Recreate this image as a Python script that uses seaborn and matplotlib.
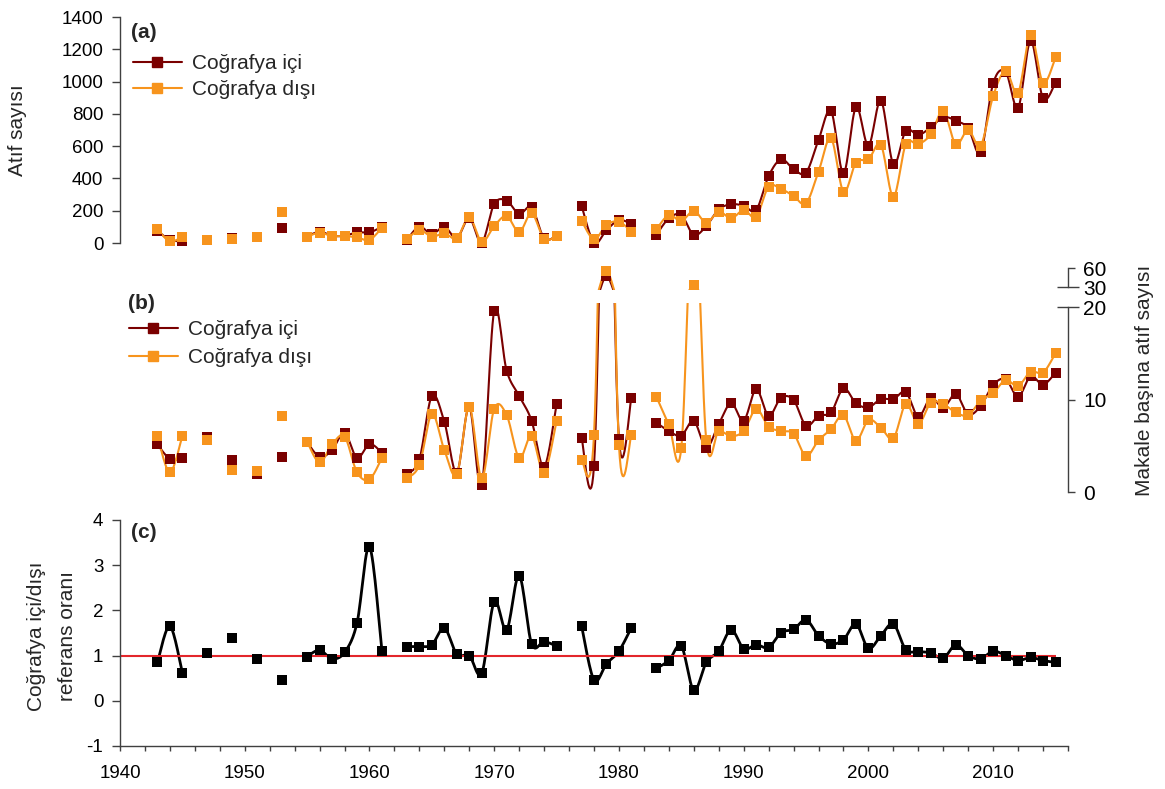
import numpy as np
import matplotlib
matplotlib.use("Agg")
import matplotlib.pyplot as plt
from matplotlib.lines import Line2D
import seaborn as sns

nan = np.nan

# ---------------- DATA ----------------
years = np.arange(1943, 2016)

# (a) citation counts
atif_ici = [
    75, 20, 10, nan, 20, nan, 32,
    nan, 37, nan, 91, nan, 40, 70, 45, 45, 66,
    66, 100, nan, 20, 101, 54, 101, 30, 155, 3,
    242, 262, 180, 221, 29, 45, nan, 231, 2, 80,
    142, 118, nan, 50, 153, 173, 50, 105, 208, 240,
    231, 204, 415, 518, 458, 436, 638, 818, 432, 841,
    603, 882, 489, 696, 669, 717, 779, 758, 711, 562,
    989, 1060, 838, 1253, 896, 993,
]
atif_disi = [
    85, 10, 39, nan, 19, nan, 23,
    nan, 39, nan, 190, nan, 39, 64, 43, 43, 35,
    19, 95, nan, 23, 80, 39, 60, 29, 159, 8,
    105, 167, 66, 184, 25, 43, nan, 138, 23, 112,
    132, 70, nan, 85, 173, 136, 200, 126, 194, 153,
    204, 163, 349, 335, 291, 246, 442, 649, 318, 498,
    518, 607, 287, 612, 612, 673, 818, 612, 700, 603,
    911, 1066, 931, 1289, 993, 1150,
]

# (b) citations per article
makale_ici = [
    5.15, 3.57, 3.64, nan, 6.0, nan, 3.46,
    nan, 2.0, nan, 3.8, nan, 5.4, 3.8, 4.54, 6.4, 3.7,
    5.19, 4.25, nan, 1.95, 3.53, 10.38, 7.6, 2.1, 9.2, 0.76,
    19.6, 13.1, 10.4, 7.7, 2.7, 9.5, nan, 5.87, 2.85, 47,
    5.7, 10.2, nan, 7.5, 6.6, 6.1, 7.7, 4.8, 7.35, 9.6,
    7.7, 11.1, 8.25, 10.2, 9.95, 7.17, 8.25, 8.6, 11.2, 9.6,
    9.15, 10.05, 10.05, 10.8, 8.15, 10.2, 9.1, 10.6, 8.4, 9.3,
    11.57, 12.2, 10.3, 12.5, 11.6, 12.9,
]
makale_disi = [
    6.05, 2.13, 6.05, nan, 5.6, nan, 2.38,
    nan, 2.3, nan, 8.2, nan, 5.44, 3.2, 5.15, 6.0, 2.13,
    1.37, 3.7, nan, 1.48, 2.92, 8.43, 4.54, 1.9, 9.2, 1.48,
    9.0, 8.3, 3.7, 6.05, 2.1, 7.7, nan, 3.46, 6.16, 55,
    5.08, 6.16, nan, 10.3, 7.3, 4.8, 33, 5.6, 6.6, 6.05,
    6.6, 8.97, 7.06, 6.6, 6.3, 3.9, 5.6, 6.8, 8.3, 5.55,
    7.8, 6.95, 5.8, 9.5, 7.35, 9.66, 9.5, 8.6, 8.3, 9.9,
    10.7, 12.1, 11.46, 13.0, 12.9, 15.0,
]

# (c) inside / outside ratio
oran = [
    0.85, 1.65, 0.62, nan, 1.05, nan, 1.39,
    nan, 0.93, nan, 0.46, nan, 0.98, 1.12, 0.93, 1.07, 1.72,
    3.41, 1.1, nan, 1.2, 1.2, 1.24, 1.61, 1.03, 1.0, 0.61,
    2.19, 1.57, 2.77, 1.26, 1.31, 1.21, nan, 1.66, 0.46, 0.82,
    1.1, 1.62, nan, 0.72, 0.89, 1.21, 0.23, 0.85, 1.1, 1.57,
    1.15, 1.24, 1.18, 1.51, 1.58, 1.79, 1.44, 1.26, 1.35, 1.7,
    1.16, 1.44, 1.7, 1.13, 1.09, 1.06, 0.94, 1.24, 1.0, 0.93,
    1.1, 1.0, 0.89, 0.96, 0.89, 0.85,
]

labels = ["Coğrafya içi", "Coğrafya dışı"]

# ---------------- STYLE ----------------
DARK = "#7a0000"
ORANGE = "#f7941d"
SPINE = "#404040"
XLIM = (1940, 2016)

sns.set_theme(style="white")
plt.rcParams["font.family"] = ["Liberation Sans", "DejaVu Sans"]
plt.rcParams["axes.edgecolor"] = SPINE
plt.rcParams["axes.unicode_minus"] = False
plt.rcParams["xtick.color"] = SPINE
plt.rcParams["ytick.color"] = SPINE
plt.rcParams["xtick.labelcolor"] = "black"
plt.rcParams["ytick.labelcolor"] = "black"


# ---------------- HELPERS ----------------
def smooth_curve(x, y, steps=16):
    # excel-like smoothed line: bezier through each continuous run
    x = np.asarray(x, float)
    y = np.asarray(y, float)
    idx = np.flatnonzero(~np.isnan(y))
    runs = np.split(idx, np.flatnonzero(np.diff(idx) > 1) + 1)
    t = np.linspace(0, 1, steps)[:, None]
    out_x, out_y = [], []
    for r in runs:
        if len(r) < 2:
            continue
        p = np.column_stack([x[r], y[r]])
        n = len(p)
        for i in range(n - 1):
            p0 = p[max(i - 1, 0)]
            p1, p2 = p[i], p[i + 1]
            p3 = p[min(i + 2, n - 1)]
            c1 = p1 + (p2 - p0) / 6
            c2 = p2 - (p3 - p1) / 6
            seg = ((1 - t) ** 3) * p1 + 3 * ((1 - t) ** 2) * t * c1 \
                + 3 * (1 - t) * t ** 2 * c2 + t ** 3 * p2
            out_x.extend(seg[:, 0])
            out_y.extend(seg[:, 1])
        out_x.append(nan)
        out_y.append(nan)
    return np.array(out_x), np.array(out_y)


def draw_series(ax, y, color, lw=1.5, size=46, clip=True, marker_min=None):
    y = np.asarray(y, float)
    cx, cy = smooth_curve(years, y)
    ax.plot(cx, cy, color=color, lw=lw, zorder=2, clip_on=clip)
    ym = y if marker_min is None else np.where(y >= marker_min, y, nan)
    sns.scatterplot(x=years, y=ym, ax=ax, marker="s", s=size,
                    color=color, linewidth=0, zorder=3, legend=False, clip_on=clip)


def hide_spines(ax, keep):
    for side in ["left", "right", "top", "bottom"]:
        ax.spines[side].set_visible(side in keep)
        ax.spines[side].set_linewidth(1.0)
    ax.patch.set_visible(False)


# ---------------- FIGURE ----------------
W, H = 1165, 789
fig = plt.figure(figsize=(W / 100, H / 100), dpi=100)


def px_axes(x0, y_top, x1, y_bot):
    return fig.add_axes([x0 / W, 1 - y_bot / H, (x1 - x0) / W, (y_bot - y_top) / H])


ax_a = px_axes(120, 17, 1068, 243)
ax_b = px_axes(120, 303.3, 1068, 494.8)
ax_b2 = px_axes(120, 262.2, 1068, 289.5)
ax_c = px_axes(120, 520, 1068, 746)

# (a)
draw_series(ax_a, atif_ici, DARK, clip=False)
draw_series(ax_a, atif_disi, ORANGE, clip=False)
ax_a.set_xlim(XLIM)
ax_a.set_ylim(0, 1400)
ax_a.set_yticks(np.arange(0, 1401, 200))
ax_a.set_xticks([])
hide_spines(ax_a, ["left"])
ax_a.tick_params(axis="y", left=True, direction="out", length=6, width=1,
                 pad=6, labelsize=13.5)
ax_a.set_xlabel("")
ax_a.set_ylabel("")

# (b) lower part 0-20 and compressed upper part 30-60
B2_LOW = 26.8
for ax, mmin in ((ax_b, None), (ax_b2, B2_LOW)):
    draw_series(ax, makale_ici, DARK, marker_min=mmin)
    draw_series(ax, makale_disi, ORANGE, marker_min=mmin)
    ax.set_xlim(XLIM)
    ax.set_xticks([])
    ax.set_xlabel("")
    ax.set_ylabel("")
    hide_spines(ax, ["right"])
    ax.yaxis.tick_right()

ax_b.set_ylim(-0.3, 20.4)
ax_b.spines["right"].set_bounds(0, 20)
ax_b.set_yticks([0, 10])
ax_b.set_yticks([20], labels=["20"], minor=True)

ax_b2.set_ylim(B2_LOW, 69)
ax_b2.spines["right"].set_bounds(30, 60)
ax_b2.set_yticks([60])
ax_b2.set_yticks([30], labels=["30"], minor=True)

for ax in (ax_b, ax_b2):
    ax.tick_params(axis="y", which="major", right=True, left=False, direction="out",
                   length=5, width=1, pad=6, labelsize=15)
    ax.tick_params(axis="y", which="minor", right=True, left=False, direction="inout",
                   length=16, width=1, pad=3, labelsize=15)

# (c)
ax_c.hlines(1, XLIM[0], years[-1], color="#e3262b", lw=1.5, zorder=2.5)
draw_series(ax_c, oran, "black", lw=2.0, size=48, clip=False)
ax_c.set_xlim(XLIM)
ax_c.set_ylim(-1, 4)
ax_c.set_yticks(np.arange(-1, 5, 1))
ax_c.set_xticks(np.arange(1940, 2011, 10))
ax_c.set_xticks(np.arange(1940, 2017, 2), minor=True)
hide_spines(ax_c, ["left", "bottom"])
ax_c.tick_params(axis="y", left=True, direction="out", length=6, width=1,
                 pad=6, labelsize=13.5)
ax_c.tick_params(axis="x", which="both", bottom=True, direction="out", length=3.5,
                 width=1, pad=10, labelsize=13.5)
ax_c.set_xlabel("")
ax_c.set_ylabel("")

# ---------------- TEXT ----------------
fig.text(18 / W, 1 - 130 / H, "Atıf sayısı", rotation=90, ha="center", va="center",
         fontsize=15)
fig.text(52 / W, 1 - 636 / H, "Coğrafya içi/dışı\nreferans oranı", rotation=90,
         ha="center", va="center", fontsize=15, linespacing=1.8, multialignment="center")
fig.text(1144 / W, 1 - 380 / H, "Makale başına atıf sayısı", rotation=90,
         ha="center", va="center", fontsize=15)

fig.text(131 / W, 1 - 33 / H, "(a)", fontsize=15, fontweight="bold", va="center")
fig.text(128 / W, 1 - 303 / H, "(b)", fontsize=15, fontweight="bold", va="center")
fig.text(131 / W, 1 - 533 / H, "(c)", fontsize=15, fontweight="bold", va="center")

handles = [
    Line2D([], [], color=DARK, lw=1.5, marker="s", ms=6.5, mec=DARK),
    Line2D([], [], color=ORANGE, lw=1.5, marker="s", ms=6.5, mec=ORANGE),
]
for anchor, spacing in [((133 / W, 1 - 54 / H), 0.33), ((129 / W, 1 - 320 / H), 0.45)]:
    fig.legend(handles, labels, loc="upper left", bbox_to_anchor=anchor,
               bbox_transform=fig.transFigure, frameon=False, fontsize=15,
               handlelength=2.35, handletextpad=0.5, labelspacing=spacing,
               borderpad=0, borderaxespad=0)

fig.savefig("out.png", dpi=100)
